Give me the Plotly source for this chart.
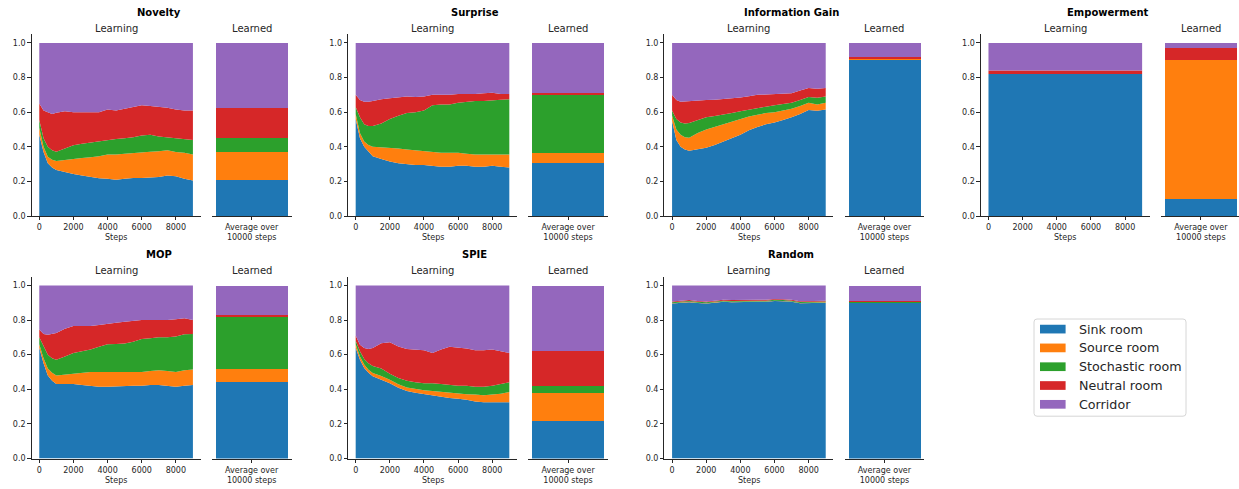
import plotly.graph_objects as go

# ---------------------------------------------------------------- data
STEPS = [0, 250, 500, 750, 1000, 1500, 2000, 2500, 3000, 3500, 4000,
         4500, 5000, 5500, 6000, 6500, 7000, 7500, 8000, 8500, 9000]

ROOMS = ["Sink room", "Source room", "Stochastic room", "Neutral room", "Corridor"]
COLORS = ["#1f77b4", "#ff7f0e", "#2ca02c", "#d62728", "#9467bd"]
AGENTS = ["Novelty", "Surprise", "Information Gain", "Empowerment", "MOP", "SPIE", "Random"]

# fraction of time spent in each room while learning (one list per room)
novelty_sink = [0.47, 0.37, 0.305, 0.28, 0.266, 0.252, 0.242, 0.235, 0.225, 0.218, 0.215,
                0.21, 0.215, 0.22, 0.22, 0.222, 0.225, 0.235, 0.23, 0.215, 0.205]
novelty_source = [0.04, 0.03, 0.038, 0.045, 0.052, 0.073, 0.087, 0.10, 0.115, 0.127, 0.14,
                  0.145, 0.145, 0.145, 0.15, 0.15, 0.15, 0.145, 0.14, 0.15, 0.15]
novelty_stoch = [0.045, 0.05, 0.057, 0.055, 0.053, 0.065, 0.08, 0.082, 0.085, 0.085, 0.083,
                 0.09, 0.09, 0.09, 0.095, 0.098, 0.085, 0.075, 0.08, 0.08, 0.085]
novelty_neutral = [0.095, 0.16, 0.20, 0.21, 0.225, 0.215, 0.19, 0.183, 0.175, 0.17, 0.177,
                   0.165, 0.17, 0.175, 0.175, 0.165, 0.17, 0.17, 0.165, 0.165, 0.17]
novelty_corridor = [0.35, 0.39, 0.40, 0.41, 0.404, 0.395, 0.40, 0.40, 0.40, 0.40, 0.385,
                    0.39, 0.38, 0.37, 0.36, 0.365, 0.37, 0.375, 0.385, 0.39, 0.39]

surprise_sink = [0.56, 0.45, 0.40, 0.37, 0.345, 0.33, 0.315, 0.305, 0.30, 0.295, 0.295,
                 0.29, 0.285, 0.285, 0.29, 0.29, 0.285, 0.285, 0.29, 0.285, 0.28]
surprise_source = [0.03, 0.03, 0.03, 0.04, 0.055, 0.068, 0.08, 0.085, 0.085, 0.085, 0.08,
                   0.08, 0.08, 0.08, 0.075, 0.07, 0.07, 0.07, 0.065, 0.07, 0.075]
surprise_stoch = [0.04, 0.09, 0.10, 0.11, 0.12, 0.137, 0.165, 0.19, 0.21, 0.22, 0.235,
                  0.27, 0.28, 0.28, 0.29, 0.30, 0.31, 0.31, 0.315, 0.317, 0.32]
surprise_neutral = [0.07, 0.10, 0.13, 0.14, 0.145, 0.14, 0.12, 0.105, 0.095, 0.088, 0.08,
                    0.06, 0.055, 0.055, 0.05, 0.045, 0.04, 0.045, 0.042, 0.033, 0.03]
surprise_corridor = [0.30, 0.33, 0.34, 0.34, 0.335, 0.325, 0.32, 0.315, 0.31, 0.312, 0.31,
                     0.30, 0.30, 0.30, 0.295, 0.295, 0.295, 0.29, 0.288, 0.295, 0.295]

infogain_sink = [0.55, 0.44, 0.40, 0.385, 0.377, 0.385, 0.395, 0.41, 0.43, 0.45, 0.47,
                 0.495, 0.515, 0.53, 0.54, 0.555, 0.57, 0.59, 0.612, 0.608, 0.615]
infogain_source = [0.03, 0.06, 0.07, 0.07, 0.075, 0.095, 0.105, 0.105, 0.10, 0.095, 0.09,
                   0.08, 0.07, 0.065, 0.06, 0.055, 0.05, 0.045, 0.043, 0.037, 0.04]
infogain_stoch = [0.03, 0.06, 0.07, 0.08, 0.085, 0.075, 0.07, 0.063, 0.055, 0.05, 0.045,
                  0.04, 0.04, 0.037, 0.04, 0.038, 0.035, 0.035, 0.033, 0.039, 0.035]
infogain_neutral = [0.09, 0.11, 0.12, 0.127, 0.128, 0.113, 0.10, 0.094, 0.09, 0.085, 0.08,
                    0.077, 0.075, 0.07, 0.065, 0.06, 0.055, 0.055, 0.052, 0.051, 0.05]
infogain_corridor = [0.30, 0.33, 0.34, 0.338, 0.335, 0.332, 0.33, 0.328, 0.325, 0.32, 0.315,
                     0.308, 0.30, 0.298, 0.295, 0.292, 0.29, 0.275, 0.26, 0.265, 0.26]

empowerment_sink = [0.82, 0.82, 0.82, 0.82, 0.82, 0.82, 0.82, 0.82, 0.82, 0.82, 0.82,
                    0.82, 0.82, 0.82, 0.82, 0.82, 0.82, 0.82, 0.82, 0.82, 0.82]
empowerment_source = [0.0, 0.0, 0.0, 0.0, 0.0, 0.0, 0.0, 0.0, 0.0, 0.0, 0.0,
                      0.0, 0.0, 0.0, 0.0, 0.0, 0.0, 0.0, 0.0, 0.0, 0.0]
empowerment_stoch = [0.0, 0.0, 0.0, 0.0, 0.0, 0.0, 0.0, 0.0, 0.0, 0.0, 0.0,
                     0.0, 0.0, 0.0, 0.0, 0.0, 0.0, 0.0, 0.0, 0.0, 0.0]
empowerment_neutral = [0.02, 0.02, 0.02, 0.02, 0.02, 0.02, 0.02, 0.02, 0.02, 0.02, 0.02,
                       0.02, 0.02, 0.02, 0.02, 0.02, 0.02, 0.02, 0.02, 0.02, 0.02]
empowerment_corridor = [0.16, 0.16, 0.16, 0.16, 0.16, 0.16, 0.16, 0.16, 0.16, 0.16, 0.16,
                        0.16, 0.16, 0.16, 0.16, 0.16, 0.16, 0.16, 0.16, 0.16, 0.16]

mop_sink = [0.64, 0.55, 0.48, 0.45, 0.43, 0.43, 0.43, 0.425, 0.42, 0.415, 0.415,
            0.418, 0.42, 0.42, 0.42, 0.425, 0.425, 0.42, 0.415, 0.42, 0.425]
mop_source = [0.02, 0.03, 0.04, 0.045, 0.05, 0.055, 0.06, 0.07, 0.08, 0.085, 0.085,
              0.082, 0.08, 0.08, 0.08, 0.08, 0.085, 0.085, 0.085, 0.09, 0.09]
mop_stoch = [0.04, 0.07, 0.08, 0.085, 0.09, 0.105, 0.12, 0.125, 0.13, 0.145, 0.16,
             0.162, 0.165, 0.175, 0.19, 0.19, 0.19, 0.195, 0.205, 0.208, 0.205]
mop_neutral = [0.045, 0.07, 0.115, 0.138, 0.155, 0.16, 0.155, 0.145, 0.135, 0.127, 0.12,
               0.123, 0.125, 0.12, 0.11, 0.105, 0.10, 0.10, 0.10, 0.092, 0.08]
mop_corridor = [0.255, 0.28, 0.285, 0.282, 0.275, 0.25, 0.235, 0.235, 0.235, 0.228, 0.22,
                0.215, 0.21, 0.205, 0.20, 0.20, 0.20, 0.20, 0.195, 0.19, 0.20]

spie_sink = [0.64, 0.57, 0.523, 0.495, 0.476, 0.457, 0.435, 0.409, 0.39, 0.38, 0.372,
             0.365, 0.355, 0.35, 0.345, 0.34, 0.33, 0.325, 0.325, 0.325, 0.325]
spie_source = [0.02, 0.02, 0.02, 0.018, 0.018, 0.02, 0.02, 0.02, 0.02, 0.02, 0.022,
               0.025, 0.03, 0.028, 0.03, 0.032, 0.04, 0.04, 0.045, 0.05, 0.06]
spie_stoch = [0.02, 0.03, 0.032, 0.037, 0.041, 0.043, 0.035, 0.036, 0.04, 0.04, 0.041,
              0.045, 0.045, 0.047, 0.045, 0.048, 0.045, 0.05, 0.05, 0.055, 0.055]
spie_neutral = [0.03, 0.037, 0.063, 0.082, 0.103, 0.146, 0.182, 0.182, 0.182, 0.187, 0.19,
                0.175, 0.20, 0.22, 0.22, 0.215, 0.21, 0.21, 0.21, 0.19, 0.17]
spie_corridor = [0.29, 0.343, 0.362, 0.368, 0.362, 0.334, 0.328, 0.353, 0.368, 0.373, 0.375,
                 0.39, 0.37, 0.355, 0.36, 0.365, 0.375, 0.375, 0.37, 0.38, 0.39]

random_sink = [0.895, 0.898, 0.90, 0.902, 0.903, 0.898, 0.895, 0.90, 0.905, 0.903, 0.905,
               0.905, 0.905, 0.905, 0.91, 0.908, 0.905, 0.897, 0.898, 0.90, 0.90]
random_source = [0.002, 0.002, 0.002, 0.002, 0.002, 0.002, 0.002, 0.002, 0.002, 0.002, 0.002,
                 0.002, 0.002, 0.002, 0.002, 0.002, 0.002, 0.002, 0.002, 0.002, 0.002]
random_stoch = [0.005, 0.005, 0.005, 0.005, 0.005, 0.005, 0.005, 0.005, 0.005, 0.005, 0.005,
                0.005, 0.005, 0.005, 0.005, 0.005, 0.005, 0.005, 0.005, 0.005, 0.005]
random_neutral = [0.005, 0.005, 0.005, 0.005, 0.005, 0.005, 0.005, 0.005, 0.005, 0.005, 0.005,
                  0.005, 0.005, 0.005, 0.005, 0.005, 0.005, 0.005, 0.005, 0.005, 0.005]
random_corridor = [0.093, 0.090, 0.088, 0.086, 0.085, 0.090, 0.093, 0.088, 0.083, 0.085, 0.083,
                   0.083, 0.083, 0.083, 0.078, 0.080, 0.083, 0.091, 0.090, 0.088, 0.088]

# average occupancy over 10000 steps after learning (sink, source, stochastic, neutral, corridor)
novelty_learned = [0.206, 0.165, 0.080, 0.170, 0.379]
surprise_learned = [0.305, 0.059, 0.331, 0.015, 0.290]
infogain_learned = [0.905, 0.003, 0.003, 0.005, 0.084]
empowerment_learned = [0.100, 0.800, 0.000, 0.070, 0.030]
mop_learned = [0.442, 0.076, 0.301, 0.013, 0.168]
spie_learned = [0.219, 0.162, 0.038, 0.204, 0.377]
random_learned = [0.902, 0.002, 0.005, 0.005, 0.086]

learning = [
    [novelty_sink, novelty_source, novelty_stoch, novelty_neutral, novelty_corridor],
    [surprise_sink, surprise_source, surprise_stoch, surprise_neutral, surprise_corridor],
    [infogain_sink, infogain_source, infogain_stoch, infogain_neutral, infogain_corridor],
    [empowerment_sink, empowerment_source, empowerment_stoch, empowerment_neutral, empowerment_corridor],
    [mop_sink, mop_source, mop_stoch, mop_neutral, mop_corridor],
    [spie_sink, spie_source, spie_stoch, spie_neutral, spie_corridor],
    [random_sink, random_source, random_stoch, random_neutral, random_corridor],
]
learned = [novelty_learned, surprise_learned, infogain_learned, empowerment_learned,
           mop_learned, spie_learned, random_learned]

# ---------------------------------------------------------------- layout helpers
W, H = 1239, 489
TEXT = "#262626"
FONT = "DejaVu Sans"


def fx(px):
    return px / W


def fy(py):
    return 1 - py / H


ROW_Y = [(34.6, 218.3), (279.6, 463.3)]      # top/bottom pixel of each row
COL_X = [31.6, 348.0, 664.4, 980.8]           # left pixel of each panel pair
LEARN_W, GAP, BAR_W = 169.0, 11.2, 79.7

fig = go.Figure()
annotations = []
layout = {}

for k, agent in enumerate(AGENTS):
    row, col = divmod(k, 4)
    top, bot = ROW_Y[row]
    x0 = COL_X[col]
    lx0, lx1 = x0, x0 + LEARN_W
    bx0 = lx1 + GAP
    bx1 = bx0 + BAR_W
    bar_range_hi = 0.44
    if bx1 > W:
        bar_range_hi = -0.44 + 0.88 * (W - bx0) / BAR_W
        bx1 = W

    ia, ib = 2 * k + 1, 2 * k + 2
    xa = "x" if ia == 1 else f"x{ia}"
    ya = "y" if ia == 1 else f"y{ia}"
    xb, yb = f"x{ib}", f"y{ib}"

    # stacked occupancy while learning
    for r, room in enumerate(ROOMS):
        fig.add_trace(go.Scatter(
            x=STEPS, y=learning[k][r], mode="lines", stackgroup=agent,
            groupnorm="fraction" if r == 0 else None,
            line=dict(width=0, color=COLORS[r]), fillcolor=COLORS[r],
            name=room, showlegend=False, xaxis=xa, yaxis=ya))
    # stacked average after learning
    for r, room in enumerate(ROOMS):
        fig.add_trace(go.Bar(
            x=[0], y=[learned[k][r]], width=0.8, marker=dict(color=COLORS[r], line=dict(width=0)),
            name=room, showlegend=False, xaxis=xb, yaxis=yb))

    axis_common = dict(showgrid=False, zeroline=False, showline=True, linecolor=TEXT,
                       linewidth=0.8, ticks="outside", ticklen=3.5, tickwidth=0.8,
                       tickcolor=TEXT, tickfont=dict(size=8, color=TEXT, family=FONT))
    layout[f"xaxis{'' if ia == 1 else ia}"] = dict(
        axis_common, domain=[fx(lx0), fx(lx1)], range=[-450, 9450],
        tickvals=[0, 2000, 4000, 6000, 8000], anchor=ya)
    layout[f"yaxis{'' if ia == 1 else ia}"] = dict(
        axis_common, domain=[fy(bot), fy(top)], range=[0, 1.05],
        tickvals=[0, 0.2, 0.4, 0.6, 0.8, 1.0],
        ticktext=["0.0", "0.2", "0.4", "0.6", "0.8", "1.0"], anchor=xa)
    layout[f"xaxis{ib}"] = dict(
        axis_common, domain=[fx(bx0), fx(bx1)], range=[-0.44, bar_range_hi],
        tickvals=[0], ticktext=["Average over<br>10000 steps"], anchor=yb)
    layout[f"yaxis{ib}"] = dict(
        showgrid=False, zeroline=False, showline=False, showticklabels=False, ticks="",
        domain=[fy(bot), fy(top)], range=[0, 1.05], anchor=xb)

    # panel titles
    annotations.append(dict(text=f"<b>{agent}</b>", x=fx((lx0 + x0 + LEARN_W + GAP + BAR_W) / 2 - 3),
                            y=fy(top - 22.3), xref="paper", yref="paper", showarrow=False,
                            xanchor="center", yanchor="middle",
                            font=dict(size=10, color="black", family=FONT)))
    annotations.append(dict(text="Learning", x=fx((lx0 + lx1) / 2), y=fy(top - 6.3),
                            xref="paper", yref="paper", showarrow=False,
                            xanchor="center", yanchor="middle",
                            font=dict(size=10, color=TEXT, family=FONT)))
    annotations.append(dict(text="Learned", x=fx(bx0 + BAR_W / 2), y=fy(top - 6.3),
                            xref="paper", yref="paper", showarrow=False,
                            xanchor="center", yanchor="middle",
                            font=dict(size=10, color=TEXT, family=FONT)))
    annotations.append(dict(text="Steps", x=fx((lx0 + lx1) / 2), y=fy(bot + 21.7),
                            xref="paper", yref="paper", showarrow=False,
                            xanchor="center", yanchor="middle",
                            font=dict(size=8, color=TEXT, family=FONT)))

# ---------------------------------------------------------------- legend
shapes = []
LX0, LX1, LY0, LY1, RAD = 1034.0, 1186.0, 322.3, 420.5, 3.0
path = (f"M {fx(LX0 + RAD)},{fy(LY0)} L {fx(LX1 - RAD)},{fy(LY0)} "
        f"Q {fx(LX1)},{fy(LY0)} {fx(LX1)},{fy(LY0 + RAD)} "
        f"L {fx(LX1)},{fy(LY1 - RAD)} Q {fx(LX1)},{fy(LY1)} {fx(LX1 - RAD)},{fy(LY1)} "
        f"L {fx(LX0 + RAD)},{fy(LY1)} Q {fx(LX0)},{fy(LY1)} {fx(LX0)},{fy(LY1 - RAD)} "
        f"L {fx(LX0)},{fy(LY0 + RAD)} Q {fx(LX0)},{fy(LY0)} {fx(LX0 + RAD)},{fy(LY0)} Z")
shapes.append(dict(type="path", path=path, xref="paper", yref="paper",
                   fillcolor="white", line=dict(color="#d6d6d6", width=1)))
for r, room in enumerate(ROOMS):
    cy = 332.5 + 19.0 * r
    shapes.append(dict(type="rect", xref="paper", yref="paper",
                       x0=fx(1040.0), x1=fx(1065.6), y0=fy(cy - 4.4), y1=fy(cy + 4.4),
                       fillcolor=COLORS[r], line=dict(width=0)))
    annotations.append(dict(text=room, x=fx(1076.7), y=fy(cy), xref="paper", yref="paper",
                            showarrow=False, xanchor="left", yanchor="middle",
                            font=dict(size=12.7, color=TEXT, family=FONT)))

fig.update_layout(
    width=W, height=H, margin=dict(l=0, r=0, t=0, b=0),
    paper_bgcolor="white", plot_bgcolor="white", barmode="stack", bargap=0,
    showlegend=False, annotations=annotations, shapes=shapes,
    font=dict(family=FONT, color=TEXT), **layout)

fig.write_html("out.html")
